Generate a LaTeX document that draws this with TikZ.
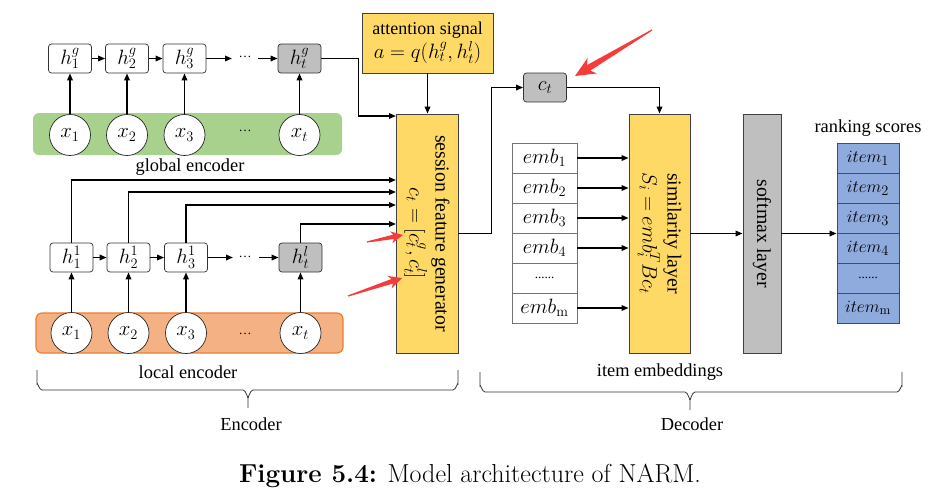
\documentclass[tikz,border=0pt]{standalone}
\usepackage{fontspec}
\newfontfamily\tnr{Liberation Serif}
\usetikzlibrary{arrows.meta,calc}
\definecolor{ycol}{HTML}{FFD966}
\definecolor{gcol}{HTML}{BFBFBF}
\definecolor{grcol}{HTML}{A9D18E}
\definecolor{orcol}{HTML}{F4B183}
\definecolor{orbord}{HTML}{ED7D31}
\definecolor{blcol}{HTML}{8FAADC}
\definecolor{redcol}{RGB}{245,60,60}
\newcommand\txtfont{\tnr\fontsize{18.4}{20}\selectfont}
\newcommand\mfont{\tnr\fontsize{20.5}{20}\selectfont}
\newcommand\redarrow[5]{%
  \coordinate (rH) at ($(#2)!#3!(#1)$);
  \coordinate (rI) at ($(#2)!0.8*#3!(#1)$);
  \fill[redcol] (#2) -- ($(rH)!#4!90:(#1)$) -- ($(rI)!#5!90:(#1)$)
    -- ($(#1)!0.6pt!-90:(#2)$) -- ($(#1)!0.6pt!90:(#2)$)
    -- ($(rI)!#5!-90:(#1)$) -- ($(rH)!#4!-90:(#1)$) -- cycle;}
\tikzset{
  every node/.style={font=\txtfont},
  hbox/.style={draw=black!80, rounded corners=3pt, minimum width=43pt,
    minimum height=29pt, inner sep=0pt, fill=white, line width=0.7pt, font=\mfont},
  hboxg/.style={hbox, fill=gcol},
  xcirc/.style={circle, draw=black!85, fill=white, minimum size=41pt,
    inner sep=0pt, line width=0.7pt, font=\tnr\fontsize{19.5}{20}\selectfont},
  arr/.style={-{Triangle[length=7pt,width=5.5pt]}, line width=1.6pt},
  ybox/.style={draw=black!75, fill=ycol, line width=0.8pt, inner sep=0pt},
  gbox/.style={draw=black!75, fill=gcol, line width=0.8pt, inner sep=0pt},
  embc/.style={draw=black!55, fill=white, minimum width=65pt, minimum height=30pt,
    inner sep=0pt, line width=0.8pt, font=\tnr\fontsize{20.5}{20}\selectfont},
  itc/.style={draw=black!70, fill=blcol, minimum width=62pt, minimum height=30pt,
    inner sep=0pt, line width=0.8pt, font=\tnr\fontsize{19}{20}\selectfont},
  dotsn/.style={font=\tnr\fontsize{13}{14}\selectfont, inner sep=0pt},
  rlab/.style={rotate=-90, align=center},
  brace/.style={line width=0.8pt, black!80},
}
\newcommand\rotmath[1]{{\fontsize{22.5}{26}\selectfont$#1$}}
\begin{document}
\begin{tikzpicture}[x=1pt,y=-1pt]
\useasboundingbox[fill=white] (0,0) rectangle (937,501);
% ---------- global encoder ----------
\fill[grcol, rounded corners=6pt] (33,113) rectangle (342,155);
\node[hbox] (hg1) at (70,58.5) {$h_1^g$};
\node[hbox] (hg2) at (127,58.5) {$h_2^g$};
\node[hbox] (hg3) at (184.5,58.5) {$h_3^g$};
\node[hboxg] (hgt) at (299.5,58.5) {$h_t^g$};
\node[dotsn] (hgd) at (245,57) {\dots};
\coordinate (gd1) at (232,58.5);
\coordinate (gd2) at (258,58.5);
\node[xcirc] (gx1) at (70,135) {$x_1$};
\node[xcirc] (gx2) at (127,135) {$x_2$};
\node[xcirc] (gx3) at (184.5,135) {$x_3$};
\node[xcirc] (gxt) at (299.5,135) {$x_t$};
\node[dotsn] (gxd) at (245,131) {\dots};
\node (glab) at (190,167) {global encoder};
\foreach \i in {1,2,3,t} \draw[arr] (gx\i.north) -- (hg\i.south);
\draw[arr] (hg1) -- (hg2);
\draw[arr] (hg2) -- (hg3);
\draw[arr] (hg3) -- (gd1);
\draw[arr] (gd2) -- (hgt);
% ---------- local encoder ----------
\draw[orbord, fill=orcol, line width=1.2pt, rounded corners=6pt] (36,313) rectangle (343,353);
\node[hbox] (lh1) at (71.5,257.5) {$h_1^1$};
\node[hbox] (lh2) at (128.5,257.5) {$h_2^1$};
\node[hbox] (lh3) at (186,257.5) {$h_3^1$};
\node[hboxg] (lht) at (300.5,257.5) {$h_t^l$};
\node[dotsn] (lhd) at (245,257) {\dots};
\coordinate (ld1) at (233,257.5);
\coordinate (ld2) at (259,257.5);
\node[xcirc] (lx1) at (71.5,333) {$x_1$};
\node[xcirc] (lx2) at (128.5,333) {$x_2$};
\node[xcirc] (lx3) at (186,333) {$x_3$};
\node[xcirc] (lxt) at (300.5,333) {$x_t$};
\node[dotsn] (lxd) at (245,334) {\dots};
\node (llab) at (188,372) {local encoder};
\foreach \i in {1,2,3,t} \draw[arr] (lx\i.north) -- (lh\i.south);
\draw[arr] (lh1) -- (lh2);
\draw[arr] (lh2) -- (lh3);
\draw[arr] (lh3) -- (ld1);
\draw[arr] (ld2) -- (lht);
% ---------- attention & session feature generator ----------
\node[ybox, minimum width=131pt, minimum height=60pt] (att) at (427.5,43) {};
\node[align=center, font=\tnr\fontsize{18}{24}\selectfont] (attt) at (att.center) {attention signal\\{\fontsize{20.5}{24}\selectfont$a=q(h_t^g,h_t^l)$}};
\node[ybox, minimum width=62pt, minimum height=239pt] (fsg) at (427,233.5) {};
\node[rlab, font=\tnr\fontsize{19.8}{26}\selectfont] (fsgt) at (fsg.center) {session feature generator\\\rotmath{c_t=[c_t^g,c_t^l]}};
\coordinate (gin) at (396,116);
\coordinate (f1) at (396,180);
\coordinate (f2) at (396,192);
\coordinate (f3) at (396,205);
\coordinate (f4) at (396,224);
\draw[arr] (hgt.east) -- ++(37,0) |- (gin);
\draw[arr] (att.south) -- (att.south |- fsg.north);
\draw[arr] (lh1.north) |- (f1);
\draw[arr] (lh2.north) |- (f2);
\draw[arr] (lh3.north) |- (f3);
\draw[arr] (lht.north) |- (f4);
% ---------- decoder ----------
\node[hboxg] (ct) at (545,87.5) {$c_t$};
\node[ybox, minimum width=61pt, minimum height=239pt] (sim) at (659.5,233.5) {};
\node[rlab, font=\tnr\fontsize{19.8}{25}\selectfont] (simt) at (sim.center) {similarity layer\\\rotmath{S_i=emb_i^TBc_t}};
\node[gbox, minimum width=38pt, minimum height=239pt] (sm) at (762,233.5) {};
\node[rlab, font=\tnr\fontsize{19.8}{25}\selectfont] (smt) at (sm.center) {softmax layer};
\draw[arr] (fsg.east) -- ++(33,0) |- (ct.west);
\draw[arr] (ct.east) -| (sim.north);
\node[embc] (e1) at (544.5,158) {$emb_1$};
\node[embc] (e2) at (544.5,188) {$emb_2$};
\node[embc] (e3) at (544.5,218) {$emb_3$};
\node[embc] (e4) at (544.5,248) {$emb_4$};
\node[embc, font=\tnr\fontsize{13}{14}\selectfont] (e5) at (544.5,278) {......};
\node[embc] (e6) at (544.5,308) {$emb_{\mathrm{m}}$};
\foreach \i in {1,2,3,4,6} \draw[arr] (e\i.east) -- (e\i.east -| sim.west);
\node (rlab) at (868,128) {ranking scores};
\node[itc] (i1) at (868,158) {$item_1$};
\node[itc] (i2) at (868,188) {$item_2$};
\node[itc] (i3) at (868,218) {$item_3$};
\node[itc] (i4) at (868,248) {$item_4$};
\node[itc, font=\tnr\fontsize{13}{14}\selectfont] (i5) at (868,278) {......};
\node[itc] (i6) at (868,308) {$item_{\mathrm{m}}$};
\draw[arr] (sim.east) -- (sim.east -| sm.west);
\draw[arr] (sm.east) -- (sm.east -| i4.west);
\node (ilab) at (660,372) {item embeddings};
% ---------- braces ----------
\draw[brace] (37,370) -- (37,384) to[out=90,in=180] (42,390) -- (243,390)
  to[out=0,in=-90] (248,397) -- (248,408);
\draw[brace] (248,397) to[out=-90,in=180] (253,390) -- (453,390)
  to[out=0,in=90] (458,384) -- (458,370);
\draw[brace] (480,372) -- (480,386) to[out=90,in=180] (485,392) -- (685,392)
  to[out=0,in=-90] (690,399) -- (690,410);
\draw[brace] (690,399) to[out=-90,in=180] (695,392) -- (897,392)
  to[out=0,in=90] (902,386) -- (902,372);
\node (enc) at (251,424) {Encoder};
\node (dec) at (692,424) {Decoder};
\node[font=\fontsize{26}{30}\selectfont] (cap) at (470,476) {\textbf{Figure 5.4:} Model architecture of NARM.};
% ---------- red annotation arrows ----------
\coordinate (ra1s) at (652,30);  \coordinate (ra1e) at (575,76);
\coordinate (ra2s) at (367,242); \coordinate (ra2e) at (403,235);
\coordinate (ra3s) at (348,296); \coordinate (ra3e) at (402,278);
\redarrow{ra1s}{ra1e}{20pt}{9pt}{3.2pt}
\redarrow{ra2s}{ra2e}{12pt}{6pt}{2.2pt}
\redarrow{ra3s}{ra3e}{13pt}{6.5pt}{2.4pt}
\end{tikzpicture}
\end{document}
